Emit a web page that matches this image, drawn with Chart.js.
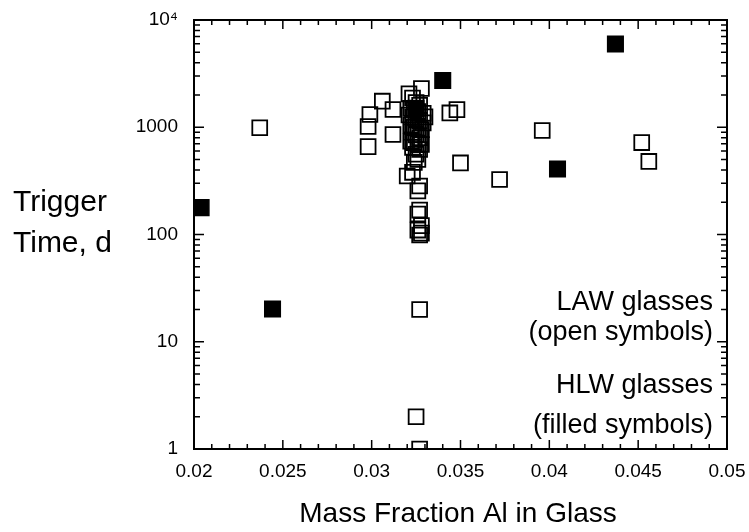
<!DOCTYPE html>
<html><head><meta charset="utf-8">
<script src="https://cdn.jsdelivr.net/npm/chart.js@4/dist/chart.umd.min.js"></script>
<style>html,body{margin:0;padding:0;background:#fff;}#wrap{width:749px;height:532px;position:relative;}</style>
</head><body><div id="wrap"><canvas id="c" width="749" height="532"></canvas></div>
<script>
// LAW glasses (open symbols)
const lawX = [0.0237,0.0306,0.0299,0.0298,0.0298,0.0312,0.0312,0.0344,0.0348,0.0350,0.0372,0.0396,0.0452,0.0456,0.0320,0.0327,0.0325,0.0327,
  0.0328,0.0321,0.0323,0.0325,0.0327,0.0322,0.0324,0.0326,0.0329,0.0321,0.0323,0.0325,0.0327,0.0329,0.0322,0.0324,0.0326,0.0328,0.0330,0.0323,0.0325,0.0327,0.0322,0.0324,0.0326,0.0328,0.0323,0.0327,0.0325,0.0326,0.0324,0.0323,0.0327,0.0326,0.0327,0.0326,0.0328,0.0326,0.0327,0.0328];
const lawY = [990,1750,1315,1016,660,855,1465,1360,1460,465,326,933,720,480,351,20,2,1,
  2300,2050,1875,1700,1600,1500,1450,1400,1350,1300,1250,1200,1150,1100,1050,1000,980,950,1250,900,850,800,740,720,700,690,650,620,560,500,470,380,283,255,169,155,121,110,99,103];
// HLW glasses (filled symbols)
const hlwX = [0.0204,0.02442,0.0340,0.04046,0.04372,0.0325];
const hlwY = [178,20.2,2730,408,5970,1500];
// axes
const xTickValues = [0.02,0.025,0.03,0.035,0.04,0.045,0.05];
const xTickLabels = ['0.02','0.025','0.03','0.035','0.04','0.045','0.05'];
const yTickValues = [1,10,100,1000,10000];
const yTickLabels = ['1','10','100','1000','10\u2074'];
const xTitle = 'Mass Fraction Al in Glass';
const yTitle = ['Trigger','Time, d'];
const notes = ['LAW glasses','(open symbols)','HLW glasses','(filled symbols)'];

const FONT = 'Liberation Sans, Arial, Helvetica, sans-serif';
const toPts = (xs, ys) => xs.map((x, i) => ({x: x, y: ys[i]}));

const framePlugin = {
  id: 'frame',
  afterDatasetsDraw(chart) {
    const ctx = chart.ctx, a = chart.chartArea;
    const xs = chart.scales.x, ys = chart.scales.y;
    ctx.save();
    ctx.strokeStyle = '#000';
    ctx.lineWidth = 2;
    ctx.strokeRect(a.left, a.top, a.right - a.left, a.bottom - a.top);
    ctx.lineWidth = 1.5;
    ctx.beginPath();
    for (let k = 20; k <= 50; k++) {
      const px = xs.getPixelForValue(k / 1000);
      const len = (k % 5 === 0) ? 9 : 5;
      ctx.moveTo(px, a.bottom); ctx.lineTo(px, a.bottom - len);
      ctx.moveTo(px, a.top); ctx.lineTo(px, a.top + len);
    }
    for (let d = 0; d < 4; d++) {
      for (let m = 1; m <= 9; m++) {
        const v = m * Math.pow(10, d);
        const py = ys.getPixelForValue(v);
        const len = (m === 1) ? 10 : 6;
        ctx.moveTo(a.left, py); ctx.lineTo(a.left + len, py);
        ctx.moveTo(a.right, py); ctx.lineTo(a.right - len, py);
      }
    }
    const pt = ys.getPixelForValue(10000);
    ctx.moveTo(a.left, pt); ctx.lineTo(a.left + 10, pt);
    ctx.moveTo(a.right, pt); ctx.lineTo(a.right - 10, pt);
    ctx.stroke();

    ctx.fillStyle = '#000';
    ctx.font = '30px ' + FONT;
    ctx.textAlign = 'left';
    ctx.textBaseline = 'alphabetic';
    ctx.fillText(yTitle[0], 13, 211);
    ctx.fillText(yTitle[1], 13, 252);
    ctx.font = '28px ' + FONT;
    ctx.textAlign = 'center';
    ctx.fillText(xTitle, 458, 522);
    ctx.font = '27px ' + FONT;
    ctx.textAlign = 'right';
    ctx.fillText(notes[0], 713, 310);
    ctx.fillText(notes[1], 713, 340);
    ctx.fillText(notes[2], 713, 393);
    ctx.fillText(notes[3], 713, 433);
    ctx.restore();
  }
};

const noPad = s => { s.paddingLeft = 0; s.paddingRight = 0; s.paddingTop = 0; s.paddingBottom = 0; };

new Chart(document.getElementById('c'), {
  type: 'scatter',
  data: {
    datasets: [
      { label: 'LAW', data: toPts(lawX, lawY), pointStyle: 'rect', pointRadius: 10.5, pointHoverRadius: 10.5,
        borderColor: '#000', backgroundColor: 'rgba(0,0,0,0)', borderWidth: 1.8 },
      { label: 'HLW', data: toPts(hlwX, hlwY), pointStyle: 'rect', pointRadius: 11, pointHoverRadius: 11,
        borderColor: '#000', backgroundColor: '#000', borderWidth: 1.5 }
    ]
  },
  options: {
    responsive: false, animation: false,
    layout: { padding: { top: 20, right: 22, left: 0, bottom: 0 } },
    plugins: { legend: { display: false }, tooltip: { enabled: false } },
    scales: {
      x: {
        type: 'linear', min: 0.02, max: 0.05,
        grid: { display: false, drawTicks: false }, border: { display: false },
        afterBuildTicks: s => { s.ticks = xTickValues.map(v => ({value: v})); },
        afterFit: s => { s.height = 83; noPad(s); },
        ticks: { color: '#000', font: { family: FONT, size: 19 }, padding: 11, maxRotation: 0, autoSkip: false,
          callback: (v) => xTickLabels[xTickValues.findIndex(t => Math.abs(t - v) < 1e-9)] }
      },
      y: {
        type: 'logarithmic', min: 1, max: 10000,
        grid: { display: false, drawTicks: false }, border: { display: false },
        afterBuildTicks: s => { s.ticks = yTickValues.map(v => ({value: v})); },
        afterFit: s => { s.width = 194; noPad(s); },
        ticks: { color: '#000', font: { family: FONT, size: 19 }, padding: 16, autoSkip: false,
          callback: (v) => yTickLabels[yTickValues.indexOf(v)] }
      }
    }
  },
  plugins: [framePlugin]
});
</script></body></html>
